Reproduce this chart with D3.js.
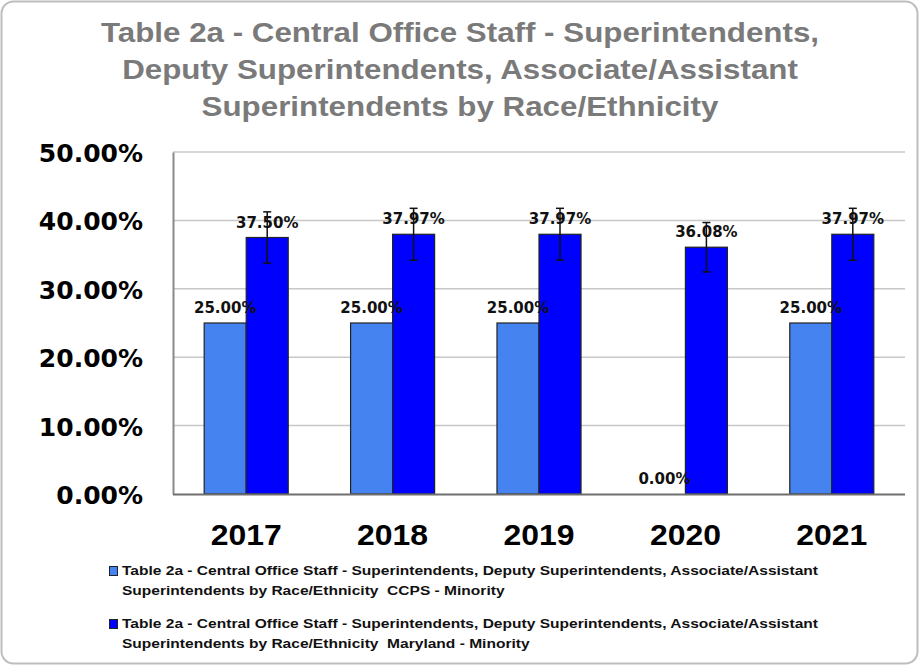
<!DOCTYPE html>
<html>
<head>
<meta charset="utf-8">
<script src="https://cdn.jsdelivr.net/npm/d3@7"></script>
<style>
  html, body { margin: 0; padding: 0; background: #ffffff; }
  svg { display: block; }
  .legend-text { white-space: pre; }
</style>
</head>
<body>
<svg id="chart" width="920" height="666"></svg>
<script>
// Chart data
const years = ["2017", "2018", "2019", "2020", "2021"];
const ccpsMinority = [25.00, 25.00, 25.00, 0.00, 25.00];
const marylandMinority = [37.50, 37.97, 37.97, 36.08, 37.97];
const yTicks = [0, 10, 20, 30, 40, 50];
const titleLines = [
  "Table 2a - Central Office Staff - Superintendents,",
  "Deputy Superintendents, Associate/Assistant",
  "Superintendents by Race/Ethnicity"
];
const seriesNames = [
  ["Table 2a - Central Office Staff - Superintendents, Deputy Superintendents, Associate/Assistant",
   "Superintendents by Race/Ethnicity  CCPS - Minority"],
  ["Table 2a - Central Office Staff - Superintendents, Deputy Superintendents, Associate/Assistant",
   "Superintendents by Race/Ethnicity  Maryland - Minority"]
];
const seriesColors = ["#4584f0", "#0000ff"];
// error bars on the Maryland series: ±10% of the value
const errorFraction = 0.10;

const sans = "'Liberation Sans', Arial, sans-serif";
const wide = "'DejaVu Sans', Verdana, sans-serif";

const svg = d3.select("#chart");

// Scale a group of text nodes horizontally by one common factor so that
// the first node spans `width` pixels (gives a condensed face look).
function condense(selection, width) {
  const nodes = selection.nodes();
  if (!nodes.length) return;
  const k = width / nodes[0].getComputedTextLength();
  nodes.forEach(n => {
    const len = n.getComputedTextLength();
    d3.select(n)
      .attr("textLength", len * k)
      .attr("lengthAdjust", "spacingAndGlyphs");
  });
}

// rounded card frame
svg.append("rect")
  .attr("x", 1.5).attr("y", 1.5)
  .attr("width", 916).attr("height", 662)
  .attr("rx", 12).attr("ry", 12)
  .attr("fill", "#ffffff")
  .attr("stroke", "#bdbdbd").attr("stroke-width", 2);

// title
const title = svg.append("g").selectAll("text")
  .data(titleLines)
  .join("text")
  .attr("x", 460)
  .attr("y", (d, i) => 42 + i * 37)
  .attr("text-anchor", "middle")
  .attr("font-family", sans)
  .attr("font-weight", "bold")
  .attr("font-size", 28)
  .attr("fill", "#7a7a7a")
  .text(d => d);
condense(title, 718);

const plot = { left: 173, right: 905, top: 152, bottom: 494 };

const x0 = d3.scaleBand()
  .domain(years)
  .range([plot.left, plot.right])
  .paddingInner(0.426)
  .paddingOuter(0.213);

const x1 = d3.scaleBand()
  .domain([0, 1])
  .range([0, x0.bandwidth()]);

const y = d3.scaleLinear()
  .domain([0, 50])
  .range([plot.bottom, plot.top]);

// horizontal gridlines
svg.append("g")
  .selectAll("line")
  .data(yTicks.filter(t => t > 0))
  .join("line")
  .attr("x1", plot.left).attr("x2", plot.right)
  .attr("y1", d => y(d)).attr("y2", d => y(d))
  .attr("stroke", "#c8c8c8").attr("stroke-width", 1.5);

// y axis
const yAxis = svg.append("g")
  .attr("transform", `translate(${plot.left},0)`)
  .call(d3.axisLeft(y).tickValues(yTicks).tickFormat(d => d.toFixed(2) + "%").tickSize(0).tickPadding(30));
yAxis.select(".domain").attr("stroke", "#8a8a8a").attr("stroke-width", 2);
yAxis.selectAll("text")
  .attr("font-family", wide)
  .attr("font-weight", "bold")
  .attr("font-size", 25)
  .attr("fill", "#000")
  .attr("dy", "0.38em");

// bars
const rows = years.map((yr, i) => ({ year: yr, values: [ccpsMinority[i], marylandMinority[i]] }));
const groups = svg.append("g")
  .selectAll("g")
  .data(rows)
  .join("g")
  .attr("transform", d => `translate(${x0(d.year)},0)`);

groups.selectAll("rect")
  .data(d => d.values.map((v, k) => ({ k, v })))
  .join("rect")
  .attr("x", d => x1(d.k))
  .attr("y", d => y(d.v))
  .attr("width", x1.bandwidth())
  .attr("height", d => y(0) - y(d.v))
  .attr("fill", d => seriesColors[d.k])
  .attr("stroke", "#222")
  .attr("stroke-width", d => d.v > 0 ? 1.2 : 0);

// x axis line
svg.append("line")
  .attr("x1", plot.left).attr("x2", plot.right)
  .attr("y1", plot.bottom + 0.5).attr("y2", plot.bottom + 0.5)
  .attr("stroke", "#6e6e6e").attr("stroke-width", 2);

// error bars on the Maryland bars
const cap = 4;
groups.each(function (d) {
  const v = d.values[1];
  const cx = x1(1) + x1.bandwidth() / 2;
  const hi = y(v * (1 + errorFraction));
  const lo = y(v * (1 - errorFraction));
  const g = d3.select(this).append("g").attr("stroke", "#111").attr("stroke-width", 1.5);
  g.append("line").attr("x1", cx).attr("x2", cx).attr("y1", hi).attr("y2", lo);
  g.append("line").attr("x1", cx - cap).attr("x2", cx + cap).attr("y1", hi).attr("y2", hi);
  g.append("line").attr("x1", cx - cap).attr("x2", cx + cap).attr("y1", lo).attr("y2", lo);
});

// value labels
groups.selectAll("text.val")
  .data(d => d.values.map((v, k) => ({ k, v })))
  .join("text")
  .attr("class", "val")
  .attr("x", d => x1(d.k) + x1.bandwidth() / 2)
  .attr("y", d => y(d.v) - 10)
  .attr("text-anchor", "middle")
  .attr("font-family", wide)
  .attr("font-weight", "bold")
  .attr("font-size", 15)
  .attr("fill", "#111")
  .text(d => d.v.toFixed(2) + "%");

// category labels
const yearLabels = svg.append("g")
  .selectAll("text")
  .data(years)
  .join("text")
  .attr("x", d => x0(d) + x0.bandwidth() / 2)
  .attr("y", 545)
  .attr("text-anchor", "middle")
  .attr("font-family", sans)
  .attr("font-weight", "bold")
  .attr("font-size", 29)
  .attr("fill", "#000")
  .text(d => d);
condense(yearLabels, 71);

// legend
const legend = svg.append("g");
seriesNames.forEach((lines, k) => {
  const top = 566 + k * 53;
  legend.append("rect")
    .attr("x", 109.5).attr("y", top + 0.5)
    .attr("width", 8).attr("height", 9)
    .attr("fill", seriesColors[k])
    .attr("stroke", "#222").attr("stroke-width", 1);
  lines.forEach((line, j) => {
    legend.append("text")
      .attr("class", "legend-text")
      .attr("x", 122)
      .attr("y", top + 9 + j * 20)
      .attr("font-family", sans)
      .attr("font-weight", "bold")
      .attr("font-size", 13.5)
      .attr("fill", "#111")
      .text(line);
  });
});
condense(legend.selectAll("text.legend-text"), 696);
</script>
</body>
</html>
